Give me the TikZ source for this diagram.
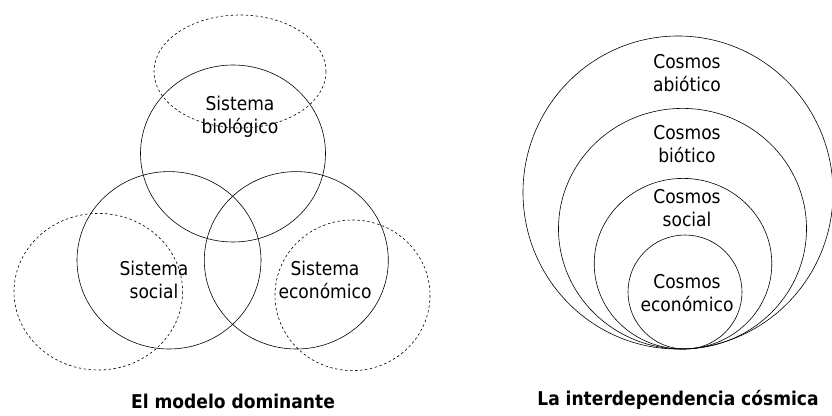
\documentclass[tikz,border=0pt]{standalone}
\usepackage{fontspec}
\setmainfont{DejaVu Sans Condensed}
\usetikzlibrary{positioning}
\tikzset{
  font={\fontsize{19pt}{23pt}\selectfont}}
\tikzset{ring/.style={draw=black, line width=0.6pt},
  dashring/.style={draw=black, line width=0.6pt, dash pattern=on 2.5pt off 2.5pt},
  lbl/.style={align=center, inner sep=0pt},
  caption/.style={font={\fontsize{19pt}{23pt}\bfseries\selectfont}, inner sep=0pt}}

\begin{document}
\begin{tikzpicture}[x=1pt, y=-1pt]
     \useasboundingbox (0,0) rectangle (832,415);
     % el modelo dominante
     \draw[dashring] (240,71.5) ellipse [x radius=86, y radius=56.5];
     \draw[dashring] (98.3,291.7) ellipse [x radius=84.3, y radius=78.3];
     \draw[dashring] (352.5,295.3) ellipse [x radius=77.5, y radius=75.3];
     \draw[ring] (233,153.5) ellipse [x radius=92.5, y radius=88.5];
     \draw[ring] (169,260.3) ellipse [x radius=92, y radius=88.7];
     \draw[ring] (296.3,260.3) ellipse [x radius=92, y radius=88.7];

     \node[lbl] (bio) at (240,117) {Sistema\\biológico};
     \node[lbl] (soc) at (154,280) {Sistema\\social};
     \node[lbl] (eco) at (325,280) {Sistema\\económico};
     \node[caption] (left) at (233,401) {El modelo dominante};

     % la interdependencia cosmica
     \draw[ring] (678,192.5) ellipse [x radius=155, y radius=156.5];
     \draw[ring] (682.5,228.7) ellipse [x radius=124, y radius=120.3];
     \draw[ring] (683,263.7) ellipse [x radius=88.8, y radius=85.3];
     \draw[ring] (685,292) ellipse [x radius=57, y radius=57];

     \node[lbl] (abio) at (687,73) {Cosmos\\abiótico};
     \node[lbl] (biot) at (687,144) {Cosmos\\biótico};
     \node[lbl] (csoc) at (687,208) {Cosmos\\social};
     \node[lbl] (ceco) at (687,293) {Cosmos\\económico};
     \node[caption] (right) at (678,400) {La interdependencia cósmica};
\end{tikzpicture}
\end{document}
